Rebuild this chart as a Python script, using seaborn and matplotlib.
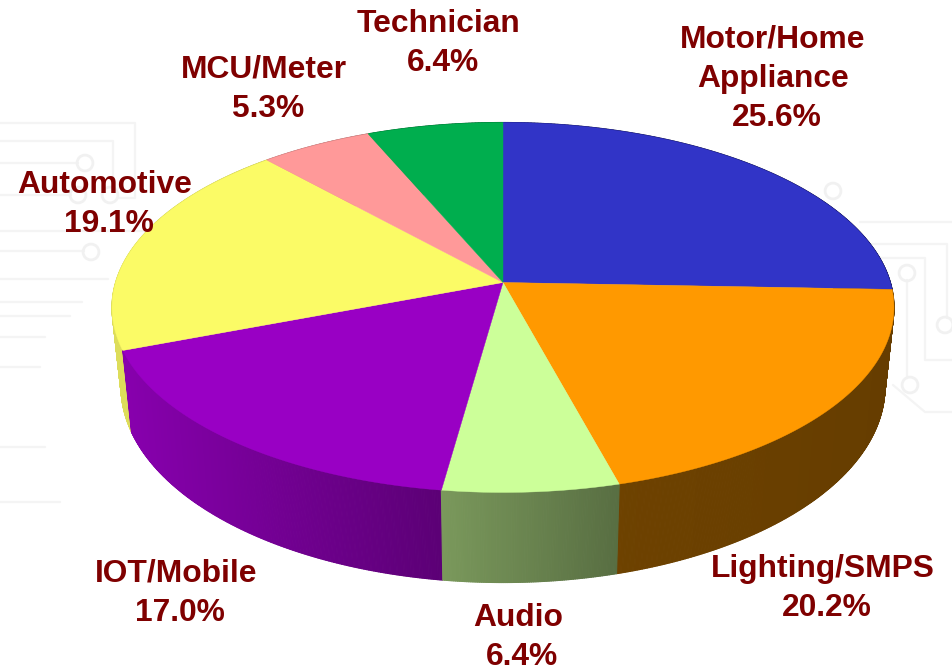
import numpy as np
import matplotlib
matplotlib.use('Agg')
import matplotlib.pyplot as plt
from matplotlib.collections import PolyCollection
import seaborn as sns

# --- chart data ---
labels = ['Motor/Home\nAppliance', 'Lighting/SMPS', 'Audio', 'IOT/Mobile', 'Automotive', 'MCU/Meter', 'Technician']
shares = [25.6, 20.2, 6.4, 17.0, 19.1, 5.3, 6.4]
hex_colors = ['#3134C7', '#FF9900', '#CCFF99', '#9900C4', '#FBFB66', '#FF9999', '#00AE4E']

# where each label's lines sit (centre x, baseline y of first line)
label_pos = [(773, 48), (823, 577), (518, 626), (176, 582), (105, 193), (264, 78), (439, 32)]
pct_x_shift = 4
line_gap = 39

# faint circuit board background
bg_paths = [
    [(0, 123), (135, 123), (135, 198), (118, 198)],
    [(0, 141), (113, 141), (113, 188)],
    [(0, 163), (78, 163)],
    [(0, 195), (71, 195)],
    [(0, 231), (150, 231)],
    [(0, 251), (84, 251)],
    [(0, 279), (108, 279)],
    [(0, 302), (82, 302)],
    [(0, 316), (70, 316)],
    [(0, 337), (45, 337)],
    [(0, 367), (40, 367)],
    [(0, 447), (45, 447)],
    [(0, 502), (60, 502)],
    [(870, 244), (947, 244), (947, 318)],
    [(880, 258), (925, 258), (925, 360), (953, 360)],
    [(907, 280), (907, 378)],
    [(860, 222), (953, 222)],
    [(893, 385), (925, 412), (953, 412)],
]
bg_circles = [(85, 163), (78, 195), (110, 195), (91, 252), (833, 191), (907, 273), (945, 325), (910, 385)]

# --- projection of the tilted disc ---
cx, cy = 503, 282.5
rim_a, rim_b, persp = 387.4, 181.6, 0.135
base_scale_x, base_scale_y, base_drop = 0.977, 1.06, 77.5
shade_x = [110, 128, 441, 620, 890]
shade_f = [0.88, 0.88, 0.60, 0.43, 0.40]


def project(theta):
    # theta runs clockwise from 12 o'clock
    u, v = np.sin(theta), np.cos(theta)
    d = 1 + persp * v
    return rim_a * u / d, -rim_b * v / d


sns.set_theme(style='white')
plt.rcParams['font.family'] = ['Liberation Sans', 'DejaVu Sans']
palette = sns.color_palette(hex_colors)

fig = plt.figure(figsize=(9.53, 6.72), dpi=100)
ax = fig.add_axes([0, 0, 1, 1])
ax.set_xlim(0, 953)
ax.set_ylim(672, 0)
ax.axis('off')

for path in bg_paths:
    xs, ys = zip(*path)
    ax.plot(xs, ys, color='#f4f4f4', lw=1.6, zorder=1)
bx, by = zip(*bg_circles)
ax.scatter(bx, by, s=130, facecolors='none', edgecolors='#f1f1f1', linewidths=2, zorder=1)

fractions = np.array(shares) / np.sum(shares)
edges = np.concatenate([[0], np.cumsum(fractions)]) * 2 * np.pi

# side wall first, back to front, then the top faces over it
quads, quad_colors, quad_key = [], [], []
for i, col in enumerate(palette):
    th = np.linspace(edges[i], edges[i + 1], max(int(fractions[i] * 1500), 8))
    X, Y = project(th)
    xt, yt = cx + X, cy + Y
    xb, yb = cx + base_scale_x * X, cy + base_scale_y * Y + base_drop
    for j in range(len(th) - 1):
        quads.append([(xt[j], yt[j]), (xt[j + 1], yt[j + 1]), (xb[j + 1], yb[j + 1]), (xb[j], yb[j])])
        f = np.interp((xt[j] + xt[j + 1]) / 2, shade_x, shade_f)
        quad_colors.append(tuple(np.array(col) * f))
        quad_key.append(yt[j])
order = np.argsort(quad_key)
ax.add_collection(PolyCollection([quads[k] for k in order],
                                 facecolors=[quad_colors[k] for k in order],
                                 edgecolors='face', linewidths=0.8, zorder=2))

for i, col in enumerate(palette):
    th = np.linspace(edges[i], edges[i + 1], 120)
    X, Y = project(th)
    ax.fill(np.r_[cx, cx + X], np.r_[cy, cy + Y], color=col, lw=0.3, zorder=3)

text_style = dict(color='#7F0000', fontsize=22.9, fontweight='bold', ha='center', va='baseline', zorder=4)
for name, share, (tx, ty) in zip(labels, shares, label_pos):
    lines = name.split('\n')
    for n, line in enumerate(lines):
        ax.text(tx, ty + n * line_gap, line, **text_style)
    ax.text(tx + pct_x_shift, ty + len(lines) * line_gap, f'{share:.1f}%', **text_style)

fig.savefig('out.png', dpi=100, facecolor='white')
